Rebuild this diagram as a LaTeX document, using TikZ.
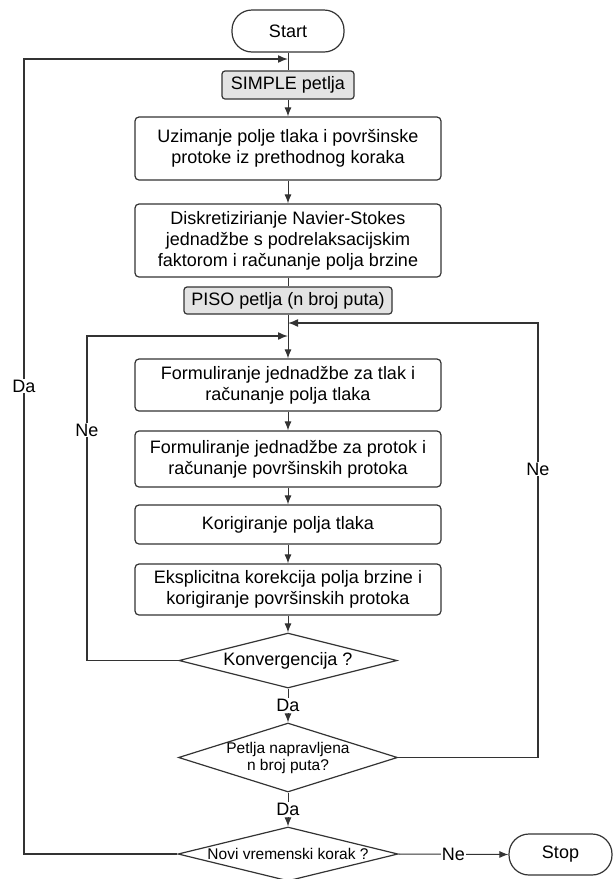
\documentclass[tikz,border=0pt]{standalone}
\usepackage{fontspec}
\setmainfont{Liberation Sans}
\usetikzlibrary{arrows.meta,shapes.geometric}
\definecolor{ln}{HTML}{333333}
\definecolor{gfill}{HTML}{E3E3E3}
\begin{document}
\begin{tikzpicture}[x=1pt,y=-1pt,
 big/.style={font=\fontsize{18}{21}\selectfont},
 small/.style={font=\fontsize{15.5}{17}\selectfont},
 procbox/.style={draw=ln, line width=1.2pt, rounded corners=4pt, minimum width=306pt, inner sep=0pt, align=center, big},
 graybox/.style={procbox, fill=gfill, rounded corners=3pt},
 term/.style={draw=ln, line width=1.2pt, rounded corners=20pt, inner sep=0pt, big},
 decision/.style={draw=ln, line width=1.2pt, diamond, inner sep=0pt, aspect=4},
 conn/.style={draw=ln, line width=1pt},
 arr/.style={conn, -{Latex[length=9pt,width=7pt]}},
 looparr/.style={draw=ln, line width=1.5pt, -{Latex[length=10pt,width=8pt]}},
 lbl/.style={fill=white, inner sep=1pt, big}]
\path[use as bounding box] (0,0) rectangle (614,879);

% nodes
\node[term, minimum width=112pt, minimum height=42pt] (start) at (288,31) {Start};
\node[graybox, minimum width=132pt, minimum height=28pt] (simple) at (288,85) {SIMPLE petlja};
\node[procbox, minimum height=63pt] (b1) at (288,148.5) {Uzimanje polje tlaka i površinske\\protoke iz prethodnog koraka};
\node[procbox, minimum height=73pt] (b2) at (288,240.5) {Diskretizirianje Navier-Stokes\\jednadžbe s podrelaksacijskim\\faktorom i računanje polja brzine};
\node[graybox, minimum width=208pt, minimum height=27pt] (piso) at (288,300.5) {PISO petlja (n broj puta)};
\node[procbox, minimum height=52pt] (b3) at (288,385) {Formuliranje jednadžbe za tlak i\\računanje polja tlaka};
\node[procbox, minimum height=56pt] (b4) at (288,459) {Formuliranje jednadžbe za protok i\\računanje površinskih protoka};
\node[procbox, minimum height=39pt] (b5) at (288,524.5) {Korigiranje polja tlaka};
\node[procbox, minimum height=51pt] (b6) at (288,589.5) {Eksplicitna korekcija polja brzine i\\korigiranje površinskih protoka};
\node[decision, minimum width=218pt, minimum height=55pt,
      label={[big]center:Konvergencija ?}] (d1) at (288,660.5) {};
\node[decision, minimum width=219pt, minimum height=69pt,
      label={[small, align=center]center:{Petlja napravljena\\n broj puta?}}] (d2) at (288,757.5) {};
\node[decision, minimum width=220pt, minimum height=54pt,
      label={[small]center:Novi vremenski korak ?}] (d3) at (288,854) {};
\node[term, minimum width=103pt, minimum height=41pt] (stop) at (560.5,854.5) {Stop};

% loop coordinates
\coordinate (j0) at (288,59);
\coordinate (j1) at (288,323);
\coordinate (j2) at (288,336);
\coordinate (oBL) at (24,854);
\coordinate (oTL) at (24,59);
\coordinate (iBL) at (87,660.5);
\coordinate (iTL) at (87,336);
\coordinate (rBR) at (538,757.5);
\coordinate (rTR) at (538,323);

% main flow
\draw[conn] (start.south) -- (simple.north);
\draw[arr] (simple.south) -- (b1.north);
\draw[arr] (b1.south) -- (b2.north);
\draw[conn] (b2.south) -- (piso.north);
\draw[arr] (piso.south) -- (b3.north);
\draw[arr] (b3.south) -- (b4.north);
\draw[arr] (b4.south) -- (b5.north);
\draw[arr] (b5.south) -- (b6.north);
\draw[arr] (b6.south) -- (d1.north);
\draw[arr] (d1.south) -- node[lbl] (da1) {Da} (d2.north);
\draw[arr] (d2.south) -- node[lbl] (da2) {Da} (d3.north);
\draw[arr] (d3.east) -- node[lbl] (ne3) {Ne} (stop.west);

% loops
\draw[looparr] (d3.west) -- (oBL) -- (oTL) -- (j0);
\node[lbl] (daL) at (24,386) {Da};
\draw[looparr] (d1.west) -- (iBL) -- (iTL) -- (j2);
\node[lbl] (neL) at (87,430) {Ne};
\draw[looparr] (d2.east) -- (rBR) -- (rTR) -- (j1);
\node[lbl] (neR) at (538,469) {Ne};
\end{tikzpicture}
\end{document}
